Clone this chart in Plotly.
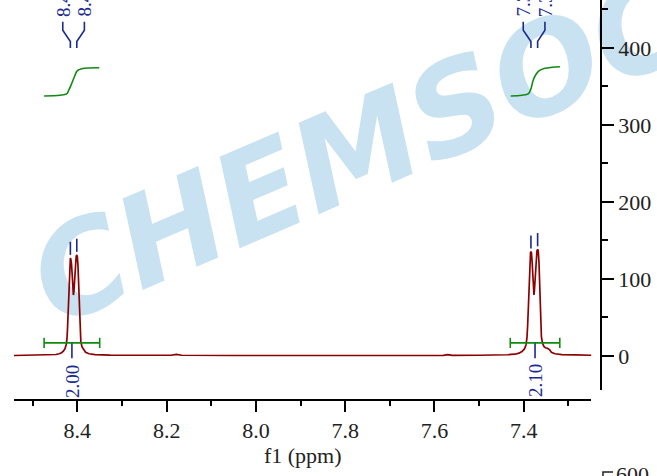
import plotly.graph_objects as go

# ---------------- data ----------------
spec_ppm = [8.542, 8.510, 8.4835, 8.4611, 8.4477, 8.4410, 8.4354, 8.4309, 8.4275, 8.4253,
            8.4235, 8.4222, 8.4210, 8.4199, 8.4188, 8.4177, 8.4166, 8.4157, 8.4146, 8.4132,
            8.4114, 8.4099, 8.4090, 8.4078, 8.4060, 8.4043, 8.4027, 8.4013, 8.4000, 8.3987,
            8.3975, 8.3964, 8.3953, 8.3940, 8.3922, 8.3895, 8.3861, 8.3816, 8.3738, 8.3604,
            8.3268, 8.250, 8.190, 8.178, 8.166, 8.050, 7.950, 7.850, 7.750, 7.650,
            7.580, 7.570, 7.560, 7.500, 7.4643, 7.4352, 7.4195, 7.4105, 7.4038, 7.3982,
            7.3949, 7.3926, 7.3910, 7.3897, 7.3884, 7.3870, 7.3857, 7.3846, 7.3837, 7.3825,
            7.3810, 7.3792, 7.3778, 7.3769, 7.3758, 7.3740, 7.3720, 7.3702, 7.3687, 7.3673,
            7.3657, 7.3644, 7.3631, 7.3617, 7.3602, 7.3579, 7.3546, 7.3512, 7.3467, 7.3422,
            7.3378, 7.3299, 7.3143, 7.2852, 7.2482]
spec_int = [0.6, 0.8, 0.9, 1.3, 1.9, 2.9, 4.2, 6.5, 9.7, 14.3,
            20.8, 33.8, 53.2, 75.3, 98.7, 116.9, 125.3, 127.3, 125.3, 119.5,
            103.9, 85.7, 79.2, 83.1, 101.3, 119.5, 129.2, 131.2, 128.6, 118.2,
            98.7, 72.7, 46.8, 28.6, 18.2, 11.7, 7.8, 4.8, 2.9, 1.8,
            1.2, 0.8, 0.9, 2.0, 0.9, 0.6, 0.5, 0.5, 0.6, 0.6,
            0.7, 1.6, 0.7, 0.9, 1.0, 1.6, 2.3, 3.6, 5.8, 9.1,
            14.3, 23.4, 40.3, 62.3, 88.3, 111.7, 128.6, 134.4, 135.5, 133.8,
            122.1, 101.3, 85.7, 79.2, 85.7, 106.5, 127.3, 136.4, 138.6, 136.4,
            122.1, 96.1, 66.2, 40.3, 24.7, 16.9, 12.3, 10.6, 10.1, 8.4,
            4.8, 2.9, 1.8, 1.3, 0.9]

peak_ppm = [8.4157, 8.4013, 7.3837, 7.3687]
peak_height = [127.3, 131.2, 135.5, 138.6]
peak_text = ["8.42", "8.40", "7.38", "7.37"]
label_ppm = [8.4327, 8.3843, 7.4009, 7.3523]

integ_start = [8.4745, 7.430]
integ_end = [8.350, 7.319]
integ_text = ["2.00", "2.10"]

intcurve1_ppm = [8.4745, 8.439, 8.424, 8.419, 8.4125, 8.406, 8.400, 8.390, 8.351]
intcurve1_val = [337.7, 338.6, 340.3, 345.5, 354.2, 363.6, 370.5, 373.1, 374.4]
intcurve2_ppm = [7.429, 7.404, 7.3897, 7.3837, 7.3785, 7.3725, 7.365, 7.3523, 7.3187]
intcurve2_val = [337.7, 338.6, 340.3, 347.0, 358.4, 365.5, 370.5, 373.6, 375.7]

x_ticks = [8.4, 8.2, 8.0, 7.8, 7.6, 7.4]
x_ticklabels = ["8.4", "8.2", "8.0", "7.8", "7.6", "7.4"]
x_minor = [8.5, 8.3, 8.1, 7.9, 7.7, 7.5, 7.3]
y_ticks = [0, 100, 200, 300, 400]
y_ticklabels = ["0", "100", "200", "300", "400"]
x_title = "f1 (ppm)"
watermark = "CHEMSOC"
extra_tick = "600"

# ---------------- styles ----------------
SPEC = "#8b0000"
GREEN = "#128a12"
BLUE = "#1a2b8f"
SERIF = '"Liberation Serif", serif'
TXT = "#222222"

fig = go.Figure()

fig.add_trace(go.Scatter(x=spec_ppm, y=spec_int, mode="lines",
                         line=dict(color=SPEC, width=1.7), hoverinfo="skip"))

for xs, ys in [(intcurve1_ppm, intcurve1_val), (intcurve2_ppm, intcurve2_val)]:
    fig.add_trace(go.Scatter(x=xs, y=ys, mode="lines",
                             line=dict(color=GREEN, width=1.6, shape="spline"),
                             hoverinfo="skip"))

bar_lvl, cap = 17.0, 6.5
for s, e in zip(integ_start, integ_end):
    fig.add_trace(go.Scatter(x=[s, s, s, e, e, e],
                             y=[bar_lvl - cap, bar_lvl + cap, bar_lvl, bar_lvl, bar_lvl + cap, bar_lvl - cap],
                             mode="lines", line=dict(color=GREEN, width=1.6), hoverinfo="skip"))
    c = (s + e) / 2
    fig.add_trace(go.Scatter(x=[c, c], y=[16.5, -3.0], mode="lines",
                             line=dict(color=BLUE, width=1.6), hoverinfo="skip"))

for p, h, lp in zip(peak_ppm, peak_height, label_ppm):
    fig.add_trace(go.Scatter(x=[p, p], y=[h + 4, h + 21], mode="lines",
                             line=dict(color=BLUE, width=1.6), hoverinfo="skip"))
    fig.add_trace(go.Scatter(x=[lp, lp, p, p], y=[434, 423, 408.5, 400], mode="lines",
                             line=dict(color=BLUE, width=1.6), hoverinfo="skip"))

annotations = []
for lp, t in zip(label_ppm, peak_text):
    annotations.append(dict(x=lp, y=438, xref="x", yref="y", text=t, showarrow=False,
                            textangle=-90, xanchor="center", yanchor="bottom",
                            font=dict(family=SERIF, size=19, color=BLUE)))
for s, e, t in zip(integ_start, integ_end, integ_text):
    annotations.append(dict(x=(s + e) / 2, y=-8.5, xref="x", yref="y", text=t, showarrow=False,
                            textangle=-90, xanchor="center", yanchor="top",
                            font=dict(family=SERIF, size=19, color=BLUE)))
annotations.append(dict(x=1.022, y=-0.15, xref="paper", yref="paper", text=extra_tick,
                        showarrow=False, xanchor="left", yanchor="top",
                        font=dict(family=SERIF, size=22, color=TXT)))

fig.add_shape(type="rect", xref="paper", yref="paper", x0=0.5806, x1=0.5846, y0=0.6455, y1=0.6495,
              line=dict(width=0), fillcolor="rgba(0,0,0,0)", layer="below",
              label=dict(text=watermark, textangle=-23.3, textposition="middle center",
                         font=dict(family="DejaVu Sans", size=126, color="#c8e2f1",
                                   weight="bold", style="italic")))
fig.add_shape(type="path", xref="paper", yref="paper",
              path="M 1.0205 -0.18 L 1.0034 -0.18 L 1.0034 -0.22",
              line=dict(color=TXT, width=1.5))

fig.update_layout(
    width=657, height=476,
    margin=dict(l=14, r=56, t=0, b=76, autoexpand=False),
    paper_bgcolor="white", plot_bgcolor="white",
    showlegend=False,
    annotations=annotations,
    xaxis=dict(domain=[0, 0.9838], range=[8.542, 7.248], anchor="free", position=0,
               automargin=False,
               showgrid=False, zeroline=False, showline=True, linecolor="black", linewidth=1.5,
               ticks="outside", ticklen=11, tickwidth=1.5, tickcolor="black",
               tickmode="array", tickvals=x_ticks, ticktext=x_ticklabels,
               minor=dict(tickvals=x_minor, ticks="outside", ticklen=5, tickwidth=1.5,
                          tickcolor="black"),
               tickfont=dict(family=SERIF, size=22, color=TXT),
               title=dict(text=x_title, font=dict(family=SERIF, size=22, color=TXT),
                          standoff=2)),
    yaxis=dict(domain=[0.025, 1], range=[-44.2, 462.3], anchor="free", position=1, side="right",
               automargin=False,
               showgrid=False, zeroline=False, showline=True, linecolor="black", linewidth=1.5,
               ticks="outside", ticklen=12, tickwidth=1.5, tickcolor="black",
               tickmode="array", tickvals=y_ticks, ticktext=y_ticklabels,
               minor=dict(dtick=50, ticks="outside", ticklen=6, tickwidth=1.5, tickcolor="black"),
               tickfont=dict(family=SERIF, size=22, color=TXT)),
)

fig.write_html("out.html", config={"displayModeBar": False},
               post_script="document.body.style.margin='0px';")
